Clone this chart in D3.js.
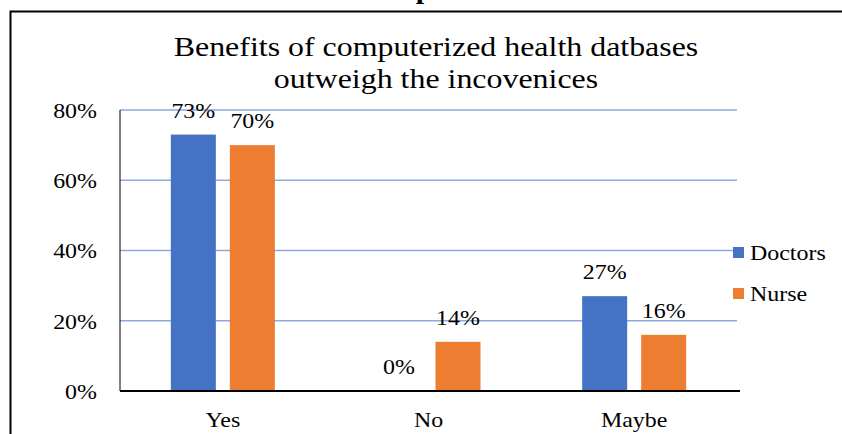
<!DOCTYPE html>
<html>
<head>
<meta charset="utf-8">
<script src="https://cdn.jsdelivr.net/npm/d3@7"></script>
<style>
  html, body { margin: 0; padding: 0; background: #fff; }
  svg { display: block; }
  text { font-family: "Liberation Serif", "Times New Roman", serif; fill: #000; }
</style>
</head>
<body>
<svg id="chart" width="842" height="434"></svg>
<script>
// Survey answers by group
const categories = ["Yes", "No", "Maybe"];
const seriesNames = ["Doctors", "Nurse"];
const doctors = [0.73, 0.00, 0.27];
const nurse = [0.70, 0.14, 0.16];
const yTicks = [0, 0.2, 0.4, 0.6, 0.8];
const titleLines = ["Benefits of computerized health datbases", "outweigh the incovenices"];
const colors = ["#4472C4", "#ED7D31"];

const svg = d3.select("#chart");
const W = 842, H = 434;
const WIDEN = 1.14; // horizontal widening of the lettering

// Move a positioned text into a transform so it can be widened about its anchor
function widen(sel) {
  sel.each(function () {
    const t = d3.select(this);
    const x = +t.attr("x") || 0, y = +t.attr("y") || 0;
    t.attr("x", 0).attr("y", 0)
      .attr("transform", `translate(${x},${y}) scale(${WIDEN},1)`);
  });
}

// Heading text of the page above the chart frame, clipped at the top edge
svg.append("text")
  .attr("x", 424).attr("y", -2)
  .attr("text-anchor", "middle")
  .style("font-size", "30px")
  .style("font-weight", "bold")
  .text("p");

// Chart frame
svg.append("path")
  .attr("d", `M10.5,${H + 2} V11.5 H${W + 2}`)
  .attr("fill", "none")
  .attr("stroke", "#000")
  .attr("stroke-width", 2);

const plot = { left: 120, right: 737, top: 110, bottom: 391 };

const x0 = d3.scaleBand().domain(categories)
  .range([plot.left, plot.right]).paddingInner(0).paddingOuter(0);
const bw = 45, gap = 14;
const x1 = d3.scaleOrdinal().domain(seriesNames)
  .range([-(bw + gap / 2), gap / 2]);
const y = d3.scaleLinear().domain([0, 0.8]).range([plot.bottom, plot.top]);

// Gridlines
svg.append("g")
  .selectAll("line")
  .data(yTicks.filter(t => t > 0))
  .join("line")
  .attr("x1", plot.left).attr("x2", plot.right)
  .attr("y1", d => y(d)).attr("y2", d => y(d))
  .attr("stroke", "#8EA9DB")
  .attr("stroke-width", 1.5);

// Y axis labels
const yAxis = d3.axisLeft(y).tickValues(yTicks).tickFormat(d3.format(".0%")).tickSize(0).tickPadding(0);
const gy = svg.append("g").attr("transform", `translate(${plot.left - 23},0)`).call(yAxis);
gy.select(".domain").remove();
gy.selectAll("text")
  .style("font-family", '"Liberation Serif", serif')
  .style("font-size", "21px")
  .attr("fill", "#000")
  .attr("dy", "0.35em")
  .attr("transform", `scale(${WIDEN},1)`);

// Vertical axis line
svg.append("line")
  .attr("x1", plot.left).attr("x2", plot.left)
  .attr("y1", plot.top).attr("y2", plot.bottom)
  .attr("stroke", "#000").attr("stroke-width", 1);

// Bars
const rows = categories.map((c, i) => ({ cat: c, values: [doctors[i], nurse[i]] }));
const groups = svg.append("g").selectAll("g")
  .data(rows).join("g")
  .attr("transform", d => `translate(${x0(d.cat) + x0.bandwidth() / 2},0)`);

groups.selectAll("rect")
  .data(d => d.values.map((v, j) => ({ key: seriesNames[j], v, j })))
  .join("rect")
  .attr("x", d => x1(d.key))
  .attr("width", bw)
  .attr("y", d => y(d.v))
  .attr("height", d => y(0) - y(d.v))
  .attr("fill", d => colors[d.j]);

groups.selectAll("text.val")
  .data(d => d.values.map((v, j) => ({ key: seriesNames[j], v, j })))
  .join("text")
  .attr("class", "val")
  .attr("x", d => x1(d.key) + bw / 2)
  .attr("y", d => y(d.v) - 17)
  .attr("text-anchor", "middle")
  .style("font-size", "21px")
  .text(d => d3.format(".0%")(d.v))
  .call(widen);

// Baseline
svg.append("line")
  .attr("x1", plot.left).attr("x2", plot.right + 3)
  .attr("y1", plot.bottom).attr("y2", plot.bottom)
  .attr("stroke", "#000").attr("stroke-width", 2);

// Category labels
const xAxis = d3.axisBottom(x0).tickSize(0).tickPadding(0);
const gx = svg.append("g").attr("transform", `translate(0,${plot.bottom + 21})`).call(xAxis);
gx.select(".domain").remove();
gx.selectAll("text")
  .style("font-family", '"Liberation Serif", serif')
  .style("font-size", "21px")
  .attr("fill", "#000")
  .attr("dy", "0.71em")
  .attr("transform", `scale(${WIDEN},1)`);

// Title
svg.append("g").selectAll("text")
  .data(titleLines).join("text")
  .attr("x", 436)
  .attr("y", (d, i) => 56 + i * 32)
  .attr("text-anchor", "middle")
  .style("font-size", "28px")
  .text(d => d)
  .call(widen);

// Legend
const legend = svg.append("g").selectAll("g")
  .data(seriesNames).join("g")
  .attr("transform", (d, i) => `translate(733,${253 + i * 41})`);
legend.append("rect")
  .attr("x", 0).attr("y", -6).attr("width", 11).attr("height", 11)
  .attr("fill", (d, i) => colors[i]);
legend.append("text")
  .attr("x", 17).attr("y", 0).attr("dy", "0.35em")
  .style("font-size", "21px")
  .text(d => d)
  .call(widen);
</script>
</body>
</html>
